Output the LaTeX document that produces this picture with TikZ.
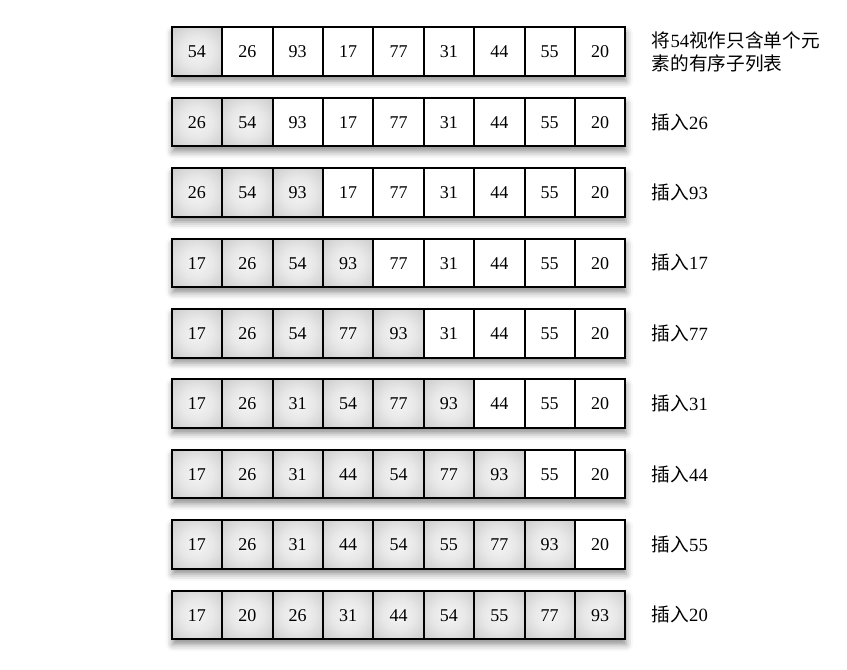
\documentclass[tikz,border=0pt]{standalone}
\usepackage{fontspec}
\setmainfont{Liberation Serif}
\newfontfamily\cjk{Noto Sans CJK SC}
\usetikzlibrary{positioning, shadows.blur}

\pgfdeclareradialshading{cellglow}{\pgfpoint{0bp}{0bp}}{%
  color(0bp)=(black!4); color(16bp)=(black!9); color(38bp)=(black!22);
  color(50bp)=(black!30); color(72bp)=(black!36)}

\tikzset{
  cell/.style={draw=black, line width=1.5pt, fill=white, inner sep=0pt,
    minimum width=37.8pt, minimum height=36.4pt,
    text height=9.2pt, text depth=0pt,
    font=\fontsize{13.5}{16}\selectfont},
  sortedcell/.style={cell, shading=cellglow},
  rowbox/.style={fill=white, inner sep=0pt, minimum width=340.2pt, minimum height=36.4pt,
    blur shadow={shadow xshift=0.5pt, shadow yshift=-4pt, shadow blur radius=5pt, shadow opacity=45}},
  steplabel/.style={align=left, inner sep=0pt, font=\fontsize{14}{17.5}\selectfont}
}

\begin{document}
\begin{tikzpicture}[x=0.75pt, y=-0.75pt]
  \useasboundingbox (0,0) rectangle (847,670);
  \foreach \r/\vals/\n/\txt in {
      1/{54,26,93,17,77,31,44,55,20}/1/{{\cjk 将}54{\cjk 视作只含单个元}\\{\cjk 素的有序子列表}},
      2/{26,54,93,17,77,31,44,55,20}/2/{{\cjk 插入}26},
      3/{26,54,93,17,77,31,44,55,20}/3/{{\cjk 插入}93},
      4/{17,26,54,93,77,31,44,55,20}/4/{{\cjk 插入}17},
      5/{17,26,54,77,93,31,44,55,20}/5/{{\cjk 插入}77},
      6/{17,26,31,54,77,93,44,55,20}/6/{{\cjk 插入}31},
      7/{17,26,31,44,54,77,93,55,20}/7/{{\cjk 插入}44},
      8/{17,26,31,44,54,55,77,93,20}/8/{{\cjk 插入}55},
      9/{17,20,26,31,44,54,55,77,93}/9/{{\cjk 插入}20}}
  {
    % strip behind the cells, carries the shadow
    \node[rowbox] (row\r) at (398.7, {51.7+70.4*(\r-1)}) {};
    \foreach \v [count=\k] in \vals {
      \ifnum\k>\n \def\look{cell}\else\def\look{sortedcell}\fi
      \node[\look] (c-\r-\k) at ({196.9+50.4*(\k-1)}, {51.7+70.4*(\r-1)}) {\v};
    }
    \node[steplabel, right=19.4pt of row\r] (lab\r) {\txt};
  }
\end{tikzpicture}
\end{document}
